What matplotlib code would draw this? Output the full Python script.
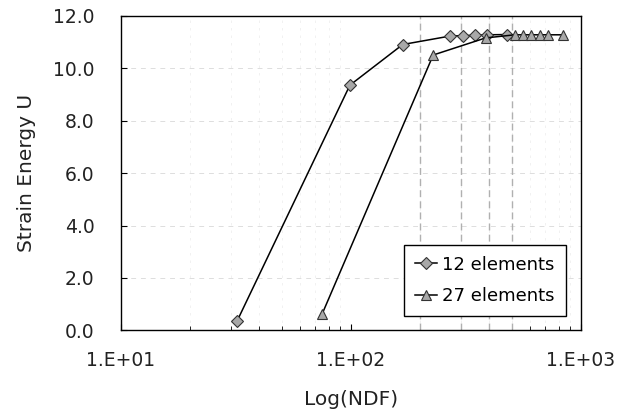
import matplotlib
matplotlib.use("Agg")
import matplotlib.pyplot as plt
from matplotlib.ticker import FixedLocator, NullFormatter

# Data
ndf_12 = [32, 99, 168, 269, 306, 345, 391, 475]
u_12 = [0.36, 9.35, 10.9, 11.22, 11.24, 11.25, 11.27, 11.28]

ndf_27 = [75, 228, 385, 516, 560, 606, 664, 719, 836]
u_27 = [0.63, 10.5, 11.15, 11.27, 11.27, 11.27, 11.27, 11.27, 11.27]

x_ticks = [10, 100, 1000]
x_tick_labels = ["1.E+01", "1.E+02", "1.E+03"]
y_ticks = [0, 2, 4, 6, 8, 10, 12]
y_tick_labels = ["0.0", "2.0", "4.0", "6.0", "8.0", "10.0", "12.0"]
highlight_x = [200, 300, 400, 500]

plt.rcParams['font.family'] = ['DejaVu Sans']
fig = plt.figure(figsize=(6.3, 4.12), dpi=100)
ax = fig.add_axes([0.192, 0.198, 0.730, 0.764])

ax.set_xscale('log')
ax.set_xlim(10, 1000)
ax.set_ylim(0, 12)

# gridlines
minor = [m * d for d in (10, 100) for m in range(2, 10)]
ax.xaxis.set_minor_locator(FixedLocator(minor))
ax.xaxis.set_minor_formatter(NullFormatter())
ax.grid(True, which='minor', axis='x', color='#efefef', linestyle=(0, (3, 6)), linewidth=0.6)
ax.grid(True, which='major', axis='y', color='#dddddd', linestyle=(0, (5, 5)), linewidth=0.7)
for xv in highlight_x:
    ax.axvline(xv, color='#b0b0b0', linestyle=(0, (5, 3)), linewidth=1.0, zorder=1)
ax.set_axisbelow(True)

ax.plot(ndf_12, u_12, color='black', linewidth=1.1, marker='D', markersize=6,
        markerfacecolor='#a8a8a8', markeredgecolor='#333333', markeredgewidth=0.8,
        label='12 elements', zorder=3)
ax.plot(ndf_27, u_27, color='black', linewidth=1.1, marker='^', markersize=7.5,
        markerfacecolor='#a8a8a8', markeredgecolor='#333333', markeredgewidth=0.8,
        label='27 elements', zorder=3)

ax.set_xticks(x_ticks)
ax.set_xticklabels(x_tick_labels)
ax.set_yticks(y_ticks)
ax.set_yticklabels(y_tick_labels)
ax.tick_params(axis='both', which='major', direction='in', length=4, labelsize=13.5,
               color='black', labelcolor='#222222')
ax.tick_params(axis='x', which='major', pad=15)
ax.tick_params(axis='y', which='major', pad=19)
ax.tick_params(axis='x', which='minor', direction='in', length=3)

for s in ax.spines.values():
    s.set_color('black')
    s.set_linewidth(1.0)

ax.set_xlabel('Log(NDF)', fontsize=14.5, color='#222222', labelpad=14)
ax.set_ylabel('Strain Energy U', fontsize=14.5, color='#222222', labelpad=12)

leg = ax.legend(loc='lower right', bbox_to_anchor=(0.967, 0.046), borderaxespad=0,
                fontsize=13, frameon=True, fancybox=False, framealpha=1, edgecolor='black',
                handlelength=1.2, handletextpad=0.3, borderpad=0.6, labelspacing=0.75)
leg.get_frame().set_linewidth(1.0)

fig.savefig('out.png', dpi=100)
